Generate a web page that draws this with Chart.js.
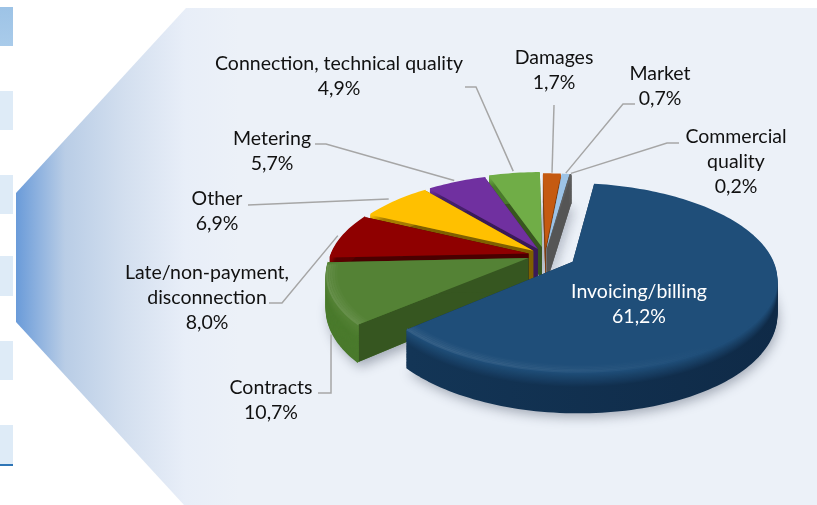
<!DOCTYPE html>
<html>
<head>
<meta charset="utf-8">
<style>
  html, body { margin: 0; padding: 0; background: #fff; overflow: hidden; }
  #page { position: relative; width: 817px; height: 505px; }
  #panel {
    position: absolute; left: 0; top: 0; width: 817px; height: 505px;
    clip-path: polygon(16px 193px, 186px 8px, 817px 8px, 817px 505px, 184px 505px, 16px 322px);
    background: linear-gradient(to right, #fff 0, #fff 16px, #6a9bd9 16px, #b9cde6 65px, #d3dfef 125px, #e8eef8 185px, #ecf1f8 240px, #ecf1f8 817px);
  }
  .tab { position: absolute; left: 0; width: 13px; background: #deebf7; }
  canvas { position: absolute; left: 0; top: 0; }
</style>
</head>
<body>
<div id="page">
  <div class="tab" style="top:7px;height:39px;background:linear-gradient(#9dc3e6,#a9cbea)"></div>
  <div class="tab" style="top:91px;height:39px"></div>
  <div class="tab" style="top:175px;height:39px"></div>
  <div class="tab" style="top:256px;height:40px"></div>
  <div class="tab" style="top:341px;height:39px"></div>
  <div class="tab" style="top:425px;height:39px;border-bottom:2px solid #2e75b6"></div>
  <div id="panel"></div>
  <canvas id="canvas" width="817" height="505"></canvas>
</div>
<script src="https://cdn.jsdelivr.net/npm/chart.js@4/dist/chart.umd.js"></script>
<script>
// Datos
const categorias = [
  ["Invoicing/billing"],
  ["Contracts"],
  ["Late/non-payment,", "disconnection"],
  ["Other"],
  ["Metering"],
  ["Connection, technical quality"],
  ["Damages"],
  ["Market"],
  ["Commercial", "quality"],
];
const valores = [61.2, 10.7, 8.0, 6.9, 5.7, 4.9, 1.7, 0.7, 0.2];

// Colores: cara superior, pared exterior y cortes radiales
const colorTapa = ["#1f4e79", "#548235", "#8f0000", "#ffc000", "#7030a0", "#70ad47", "#c55a11", "#9dc3e6", "#5f5f5f"];
const colorPared = ["#0f2a47", "#4a7a2c", "#5a0000", "#a67c00", "#46206a", "#4a7a2c", "#7d3a0c", "#6b8fb0", "#595959"];
const colorCorte = ["#12304f", "#365620", "#4a0000", "#7f6000", "#3a1a58", "#38561f", "#7d3f12", "#6b8fb0", "#555555"];
const separacion = [37, 21, 20, 18, 18, 22, 17, 17, 17];

// Orden de pintado: de atras hacia adelante, la porcion grande al final
const ordenPintado = [6, 7, 8, 5, 4, 3, 2, 1, 0];

// Posicion de las etiquetas: centro x, y de la primera linea, tramo de guia y punto de llegada
const posEtiquetas = [
  { x: 639, y: 292, color: "#fff" },
  { x: 271, y: 388, guia: [[318, 393], [331, 393]], r: 1.0, z: 38 },
  { x: 207, y: 273, guia: [[269, 303], [282, 303]], r: 1.03, z: 0 },
  { x: 217, y: 199, guia: [[248, 205]], r: 1.06, z: 0 },
  { x: 272, y: 139, guia: [[315, 144], [326, 144]], r: 1.04, z: 0 },
  { x: 339, y: 64, guia: [[465, 87], [476, 87]], r: 1.05, z: 0 },
  { x: 554, y: 58, guia: [[554, 105]], r: 1.03, z: 0 },
  { x: 660, y: 74, guia: [[635, 104], [623, 104]], r: 1.03, z: 0 },
  { x: 736, y: 137, guia: [[679, 143], [667, 143]], r: 1.03, z: 0 },
];

// Proyeccion de la torta
const centroX = 545;
const centroY = 255;
const radio = 197;
const aplastado = 0.45;
const perspectiva = 0.17;
const grosor = 33;

const proyectar = (u, v, z) => {
  const f = 1 / (1 - perspectiva * v);
  return { x: centroX + radio * u * f, y: centroY + radio * aplastado * v * f + z * f };
};

const mezclar = (a, b, t) => {
  const canal = (c, i) => parseInt(c.substr(1 + i * 2, 2), 16);
  const partes = [0, 1, 2].map((i) => Math.round(canal(a, i) + (canal(b, i) - canal(a, i)) * t));
  return `rgb(${partes.join(",")})`;
};

// Geometria de cada porcion a partir del arco que calcula Chart.js
const geometria = (arco) => {
  const medio = (arco.startAngle + arco.endAngle) / 2;
  const escala = arco.outerRadius;
  const dx = (Math.cos(medio) * arco.options.offset) / escala;
  const dy = (Math.sin(medio) * arco.options.offset) / escala;
  const puntoBorde = (ang, r, z) => proyectar(dx + Math.cos(ang) * r, dy + Math.sin(ang) * r, z);
  const borde = (r, z) => {
    const puntos = [];
    const pasos = Math.max(3, Math.ceil((arco.endAngle - arco.startAngle) * 40));
    for (let i = 0; i <= pasos; i++) {
      puntos.push(puntoBorde(arco.startAngle + ((arco.endAngle - arco.startAngle) * i) / pasos, r, z));
    }
    return puntos;
  };
  return { medio, dx, dy, puntoBorde, borde, vertice: (z) => proyectar(dx, dy, z) };
};

const trazar = (ctx, puntos) => {
  ctx.beginPath();
  puntos.forEach((p, i) => (i ? ctx.lineTo(p.x, p.y) : ctx.moveTo(p.x, p.y)));
};

const pintarPorcion = (ctx, arco, i) => {
  const g = geometria(arco);

  // Cortes radiales
  [arco.startAngle, arco.endAngle].forEach((ang) => {
    trazar(ctx, [g.vertice(0), g.puntoBorde(ang, 1, 0), g.puntoBorde(ang, 1, grosor), g.vertice(grosor)]);
    ctx.closePath();
    ctx.fillStyle = colorCorte[i];
    ctx.fill();
  });

  // Pared exterior por capas, con el canto mas claro arriba
  for (let z = grosor; z >= 0; z -= 1) {
    const t = Math.min(1, z / 12);
    trazar(ctx, g.borde(1, z));
    ctx.lineWidth = 2.5;
    ctx.lineJoin = "round";
    if (i === 0) {
      const grad = ctx.createLinearGradient(410, 0, 780, 0);
      grad.addColorStop(0, mezclar(colorTapa[i], "#133556", t));
      grad.addColorStop(1, mezclar(colorTapa[i], colorPared[i], t));
      ctx.strokeStyle = grad;
    } else {
      ctx.strokeStyle = mezclar(colorTapa[i], colorPared[i], t);
    }
    ctx.stroke();
  }

  // Cara superior
  trazar(ctx, [g.vertice(0), ...g.borde(1, 0)]);
  ctx.closePath();
  ctx.fillStyle = colorTapa[i];
  ctx.fill();

  // Brillo del bisel en las dos porciones de adelante
  if (i < 2) {
    for (let j = 0; j < 5; j++) {
      const grad = ctx.createLinearGradient(330, 0, 720, 0);
      grad.addColorStop(0, `rgba(255,255,255,${0.02 + j * 0.022})`);
      grad.addColorStop(1, "rgba(255,255,255,0)");
      trazar(ctx, g.borde(0.955 + j * 0.011, 0).filter((p) => p.y > centroY + 8));
      ctx.strokeStyle = grad;
      ctx.lineWidth = 2;
      ctx.stroke();
    }
  }
};

const torta3d = {
  id: "torta3d",
  beforeDatasetDraw(chart) {
    const ctx = chart.ctx;
    const arcos = chart.getDatasetMeta(0).data;

    // Sombra sobre el fondo
    ctx.save();
    arcos.forEach((arco, i) => {
      const g = geometria(arco);
      ctx.shadowColor = "rgba(50,60,80,0.4)";
      ctx.shadowBlur = 12;
      ctx.shadowOffsetX = 2;
      ctx.shadowOffsetY = 5;
      trazar(ctx, [g.vertice(grosor), ...g.borde(1, grosor)]);
      ctx.closePath();
      ctx.fillStyle = colorPared[i];
      ctx.fill();
    });
    ctx.restore();

    ctx.save();
    ordenPintado.forEach((i) => pintarPorcion(ctx, arcos[i], i));
    ctx.restore();
    return false;
  },
  afterDatasetsDraw(chart) {
    const ctx = chart.ctx;
    const arcos = chart.getDatasetMeta(0).data;
    ctx.save();

    // Lineas guia
    ctx.strokeStyle = "#a6a6a6";
    ctx.lineWidth = 1.5;
    posEtiquetas.forEach((pos, i) => {
      if (!pos.guia) return;
      const g = geometria(arcos[i]);
      const fin = g.puntoBorde(g.medio, pos.r, pos.z);
      trazar(ctx, [...pos.guia.map(([x, y]) => ({ x, y })), fin]);
      ctx.stroke();
    });

    // Textos
    ctx.font = "19.5px Lato";
    ctx.textAlign = "center";
    ctx.textBaseline = "middle";
    posEtiquetas.forEach((pos, i) => {
      const lineas = [...categorias[i], valores[i].toFixed(1).replace(".", ",") + "%"];
      ctx.fillStyle = pos.color || "#111";
      lineas.forEach((linea, j) => ctx.fillText(linea, pos.x, pos.y + j * 24.7));
    });
    ctx.restore();
  },
};

const grafico = new Chart(document.getElementById("canvas").getContext("2d"), {
  type: "pie",
  data: {
    labels: categorias.map((c) => c.join(" ")),
    datasets: [{ data: valores, backgroundColor: colorTapa, offset: separacion, borderWidth: 0 }],
  },
  options: {
    responsive: false,
    animation: false,
    rotation: 8.5,
    plugins: { legend: { display: false }, tooltip: { enabled: false } },
  },
  plugins: [torta3d],
});
</script>
</body>
</html>
